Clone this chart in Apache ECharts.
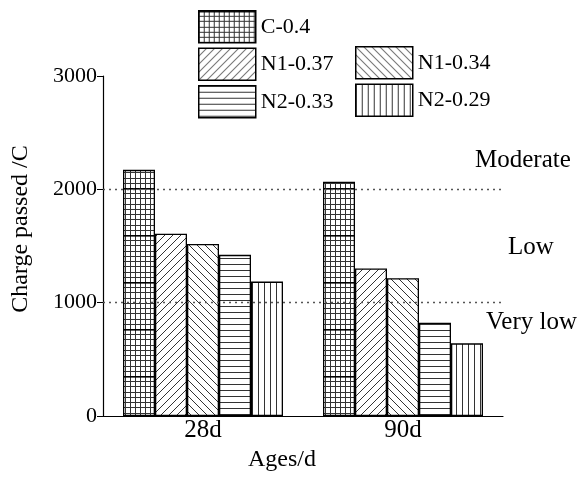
<!DOCTYPE html>
<html>
<head>
<meta charset="utf-8">
<script src="https://cdn.jsdelivr.net/npm/echarts@6/dist/echarts.min.js"></script>
<style>
html,body{margin:0;padding:0;background:#fff;}
#chart{width:585px;height:477px;}
</style>
</head>
<body>
<div id="chart"></div>
<script>
// ---- data ----
const categories = ['28d', '90d'];
const seriesNames = ['C-0.4', 'N1-0.37', 'N1-0.34', 'N2-0.33', 'N2-0.29'];
const valuesC04 = [2172, 2068];
const valuesN1037 = [1608, 1301];
const valuesN1034 = [1517, 1216];
const valuesN2033 = [1422, 823];
const valuesN2029 = [1186, 641];
const yMin = 0, yMax = 3000, yInterval = 1000;
const thresholds = [1000, 2000];
const zoneLabels = ['Moderate', 'Low', 'Very low'];

const FONT = '"Liberation Serif", "Times New Roman", serif';
const LINE = '#333';

function tile(w, h, draw) {
  const c = document.createElement('canvas');
  c.width = w; c.height = h;
  const ctx = c.getContext('2d');
  ctx.fillStyle = '#fff';
  ctx.fillRect(0, 0, w, h);
  ctx.strokeStyle = LINE;
  ctx.lineWidth = 1;
  draw(ctx, w, h);
  return { image: c, repeat: 'repeat' };
}
const patterns = {
  grid: tile(5, 47, (ctx, w, h) => {
    ctx.beginPath();
    ctx.moveTo(0.5, 0); ctx.lineTo(0.5, h);
    for (let i = 1; i < 9; i++) {
      const y = Math.round(i * h / 9) + 0.5;
      ctx.moveTo(0, y); ctx.lineTo(w, y);
    }
    ctx.stroke();
    ctx.strokeStyle = '#000';
    ctx.lineWidth = 1.6;
    ctx.beginPath(); ctx.moveTo(0, 0.8); ctx.lineTo(w, 0.8); ctx.stroke();
  }),
  fwd: tile(8, 8, (ctx, w, h) => {
    ctx.beginPath();
    ctx.moveTo(0, h); ctx.lineTo(w, 0);
    ctx.moveTo(-1, 1); ctx.lineTo(1, -1);
    ctx.moveTo(w - 1, h + 1); ctx.lineTo(w + 1, h - 1);
    ctx.stroke();
  }),
  back: tile(8, 8, (ctx, w, h) => {
    ctx.beginPath();
    ctx.moveTo(0, 0); ctx.lineTo(w, h);
    ctx.moveTo(w - 1, -1); ctx.lineTo(w + 1, 1);
    ctx.moveTo(-1, h - 1); ctx.lineTo(1, h + 1);
    ctx.stroke();
  }),
  horiz: tile(6, 6, (ctx, w, h) => {
    ctx.beginPath(); ctx.moveTo(0, 0.5); ctx.lineTo(w, 0.5); ctx.stroke();
  }),
  vert: tile(6, 6, (ctx, w, h) => {
    ctx.beginPath(); ctx.moveTo(0.5, 0); ctx.lineTo(0.5, h); ctx.stroke();
  })
};

const seriesValues = [valuesC04, valuesN1037, valuesN1034, valuesN2033, valuesN2029];
const seriesPatterns = [patterns.grid, patterns.fwd, patterns.back, patterns.horiz, patterns.vert];

const chart = echarts.init(document.getElementById('chart'), null, { renderer: 'canvas' });

const series = seriesNames.map((name, i) => ({
  name: name,
  type: 'bar',
  data: seriesValues[i],
  barGap: '0%',
  barCategoryGap: '20%',
  itemStyle: { color: seriesPatterns[i], borderColor: '#000', borderWidth: 1.3 },
  emphasis: { disabled: true },
  animation: false
}));
series[0].markLine = {
  silent: true,
  symbol: 'none',
  label: { show: false },
  lineStyle: { type: [2, 4], color: '#555', width: 1.3 },
  data: thresholds.map(v => ({ yAxis: v })),
  animation: false
};

const legendCommon = {
  orient: 'vertical',
  itemWidth: 57,
  itemHeight: 32,
  itemGap: 4,
  padding: 0,
  icon: 'rect',
  selectedMode: false,
  itemStyle: { borderColor: '#000', borderWidth: 1.5 },
  textStyle: { fontFamily: FONT, fontSize: 22, color: '#000' }
};

const option = {
  backgroundColor: '#fff',
  animation: false,
  legend: [
    Object.assign({}, legendCommon, { left: 198, top: 10, data: ['C-0.4', 'N1-0.37', 'N2-0.33'] }),
    Object.assign({}, legendCommon, { left: 355, top: 46, data: ['N1-0.34', 'N2-0.29'] })
  ],
  grid: { left: 103, right: 82, top: 76, bottom: 61 },
  xAxis: {
    type: 'category',
    data: categories,
    name: 'Ages/d',
    nameLocation: 'middle',
    nameGap: 32,
    nameTextStyle: { fontFamily: FONT, fontSize: 24, color: '#000', padding: [0, 42, 0, 0] },
    axisLine: { lineStyle: { color: '#000', width: 1.2 } },
    axisTick: { show: false },
    axisLabel: { fontFamily: FONT, fontSize: 25, color: '#000', margin: 2 }
  },
  yAxis: {
    type: 'value',
    min: yMin, max: yMax, interval: yInterval,
    name: 'Charge passed /C',
    nameLocation: 'middle',
    nameGap: 70,
    nameTextStyle: { fontFamily: FONT, fontSize: 24, color: '#000', padding: [0, 0, 0, 34] },
    axisLine: { show: true, lineStyle: { color: '#000', width: 1.2 } },
    axisTick: { show: true, length: 6, lineStyle: { color: '#000' } },
    splitLine: { show: false },
    axisLabel: { fontFamily: FONT, fontSize: 22, color: '#000', margin: 6, formatter: v => String(v) }
  },
  graphic: [
    { type: 'text', left: 475, top: 148, style: { text: zoneLabels[0], font: '25px ' + FONT, fill: '#000' } },
    { type: 'text', left: 508, top: 235, style: { text: zoneLabels[1], font: '25px ' + FONT, fill: '#000' } },
    { type: 'text', left: 486, top: 310, style: { text: zoneLabels[2], font: '25px ' + FONT, fill: '#000' } }
  ],
  series: series
};
chart.setOption(option);
</script>
</body>
</html>
